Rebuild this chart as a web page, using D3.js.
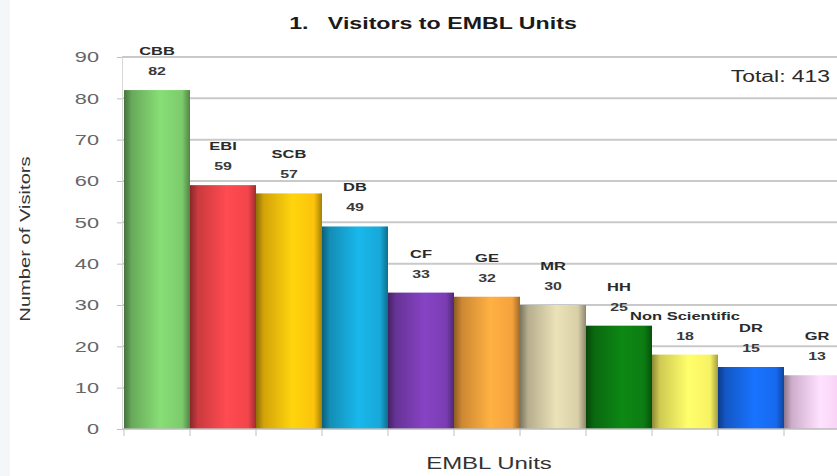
<!DOCTYPE html>
<html><head><meta charset="utf-8">
<script src="https://cdn.jsdelivr.net/npm/d3@7"></script>
<style>
html,body{margin:0;padding:0;background:#fff;overflow:hidden}
svg{display:block;font-family:"Liberation Sans",Arial,sans-serif}
</style></head>
<body>
<svg id="c" width="837" height="476"></svg>
<script>
const categories = ["CBB","EBI","SCB","DB","CF","GE","MR","HH","Non Scientific","DR","GR"];
const values = [82,59,57,49,33,32,30,25,18,15,13];
const yTicks = [0,10,20,30,40,50,60,70,80,90];
const palette = ["#7ccb6c","#f2454a","#fcc30c","#17a8d8","#7b3db3","#f5a23c","#d8cfa8","#0c7c12","#f8f262","#1769ee","#f6cff4"];
const titleText = "1.   Visitors to EMBL Units";
const totalText = "Total: 413";
const yTitle = "Number of Visitors";
const xTitle = "EMBL Units";

const svg = d3.select("#c");
const W = 837, H = 476;
const x = d3.scaleBand().domain(categories).range([124, 850]).paddingInner(0).paddingOuter(0);
const y = d3.scaleLinear().domain([0,90]).range([429, 57]);

svg.append("rect").attr("width",W).attr("height",H).attr("fill","#fff");
svg.append("rect").attr("width",10).attr("height",H).attr("fill","#f5f6f8");

function addText(g, px, py, txt, o){
  return g.append("text")
    .attr("transform",`translate(${px},${py}) rotate(${o.rot||0}) scale(${o.sx||1},1)`)
    .attr("text-anchor",o.anchor||"middle")
    .attr("font-size",o.fs+"px")
    .attr("font-weight",o.weight||"normal")
    .attr("fill",o.fill||"#333")
    .style("white-space","pre")
    .text(txt);
}

const defs = svg.append("defs");
categories.forEach((c,i)=>{
  const base = d3.color(palette[i]);
  const g = defs.append("linearGradient").attr("id","g"+i).attr("x1","0").attr("x2","1").attr("y1","0").attr("y2","0");
  g.append("stop").attr("offset","0").attr("stop-color",base.darker(1.6));
  g.append("stop").attr("offset","0.12").attr("stop-color",base.darker(0.5));
  g.append("stop").attr("offset","0.55").attr("stop-color",base.brighter(0.25));
  g.append("stop").attr("offset","0.88").attr("stop-color",base);
  g.append("stop").attr("offset","1").attr("stop-color",base.darker(1.2));
});

// gridlines
svg.append("g").selectAll("line").data(yTicks.filter(d=>d>0)).join("line")
  .attr("x1",122).attr("x2",W).attr("y1",d=>y(d)).attr("y2",d=>y(d))
  .attr("stroke","#c9c9c9").attr("stroke-width",2);

// y axis
const tsx = 1.45;
const ya = svg.append("g").attr("transform","translate(122,0)")
  .call(d3.axisLeft(y).tickValues(yTicks).tickSize(5).tickPadding(12));
ya.select(".domain").attr("stroke","#d8d8d8");
ya.selectAll(".tick line").attr("stroke","#c0c0c0");
ya.selectAll(".tick text").attr("fill","#666").style("font-size","15px")
  .attr("x",-23/tsx).attr("transform",`scale(${tsx},1)`);

// bars
svg.append("g").selectAll("rect").data(values).join("rect")
  .attr("x",(d,i)=>x(categories[i]))
  .attr("width",x.bandwidth())
  .attr("y",d=>y(d))
  .attr("height",d=>y(0)-y(d))
  .attr("fill",(d,i)=>`url(#g${i})`);

// x axis
const xa = svg.append("g").attr("transform",`translate(0,${y(0)})`);
xa.append("line").attr("x1",122).attr("x2",W).attr("stroke","#bdbdbd").attr("stroke-width",1.5);
const bounds = categories.map(c=>x(c)).concat([x(categories[categories.length-1])+x.bandwidth()]);
xa.selectAll("line.t").data(bounds).join("line").attr("class","t")
  .attr("x1",d=>d).attr("x2",d=>d).attr("y1",0).attr("y2",7).attr("stroke","#c0c0c0");

// labels
const lab = svg.append("g");
values.forEach((v,i)=>{
  const cx = x(categories[i]) + x.bandwidth()/2;
  addText(lab, cx, y(v)-35, categories[i], {fs:11, sx:1.5, weight:"bold", fill:"#2a2a2a"});
  addText(lab, cx, y(v)-15, String(v), {fs:11, sx:1.45, weight:"bold", fill:"#3a3a3a"});
});

// titles
addText(svg, 433, 29, titleText, {fs:16, sx:1.45, weight:"bold", fill:"#1a1a1a"});
addText(svg, 830, 82, totalText, {fs:16, sx:1.43, anchor:"end", fill:"#2a2a2a"});
addText(svg, 30, 239, yTitle, {fs:14.5, sx:1.39, rot:-90, fill:"#333"});
addText(svg, 489, 469, xTitle, {fs:16, sx:1.5, fill:"#333"});
</script>
</body></html>
